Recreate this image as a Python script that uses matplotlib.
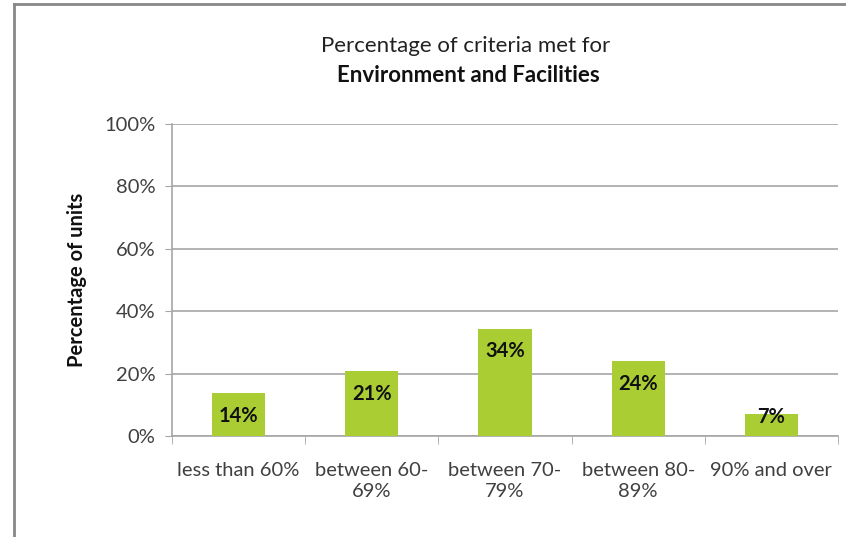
import numpy as np
import matplotlib.pyplot as plt
from matplotlib.lines import Line2D

categories = ["less than 60%", "between 60-\n69%", "between 70-\n79%",
              "between 80-\n89%", "90% and over"]
values = [13.8, 20.7, 34.4, 24.1, 6.9]
labels = ["14%", "21%", "34%", "24%", "7%"]
yticks = [0, 20, 40, 60, 80, 100]

plt.rcParams['font.family'] = ['Lato', 'DejaVu Sans']

fig = plt.figure(figsize=(8.46, 5.37), dpi=100)
W, H = 846, 537
ax = fig.add_axes([172 / W, 1 - 436 / H, (838 - 172) / W, (436 - 124) / H])

x = np.arange(len(categories))
ax.bar(x, values, width=0.4, color="#aacd33", zorder=3)
# value labels sit just inside the bar top, but never below a minimum height
for xi, v, lab in zip(x, values, labels):
    ax.text(xi, max(v - 7.3, 6.1), lab, ha="center", va="center",
            fontsize=14.5, fontweight="bold", color="#111111", zorder=4)

ax.set_xlim(-0.5, len(categories) - 0.5)
ax.set_ylim(0, 100)
ax.set_yticks(yticks)
ax.set_yticklabels([f"{t}%" for t in yticks])
ax.set_xticks(x)
ax.set_xticklabels(categories, linespacing=1.25)
ax.set_xticks(np.arange(len(categories) + 1) - 0.5, minor=True)

ax.grid(axis="y", color="#a6a6a6", linewidth=1.2, zorder=0)
for side in ["top", "right"]:
    ax.spines[side].set_visible(False)
for side in ["left", "bottom"]:
    ax.spines[side].set_color("#a6a6a6")
    ax.spines[side].set_linewidth(1.2)

ax.tick_params(axis="y", length=5, color="#a6a6a6", labelsize=14.5,
               labelcolor="#404040", pad=7)
ax.tick_params(axis="x", which="major", length=0, labelsize=14.5,
               labelcolor="#404040", pad=19)
ax.tick_params(axis="x", which="minor", length=6, color="#a6a6a6")

ax.set_ylabel("Percentage of units", fontsize=14.5, fontweight="bold",
              color="#111111", labelpad=12)

fig.text(466 / W, 1 - 46 / H, "Percentage of criteria met for",
         ha="center", va="center", fontsize=16, color="#222222")
fig.text(468 / W, 1 - 75 / H, "Environment and Facilities",
         ha="center", va="center", fontsize=16, fontweight="bold",
         color="#111111")

# outer frame of the chart area
fig.add_artist(Line2D([14 / W, 14 / W], [0, 1 - 4 / H], color="#888888",
                      linewidth=2, transform=fig.transFigure))
fig.add_artist(Line2D([14 / W, 1], [1 - 4 / H, 1 - 4 / H], color="#888888",
                      linewidth=2, transform=fig.transFigure))

fig.savefig("out.png", dpi=100)
